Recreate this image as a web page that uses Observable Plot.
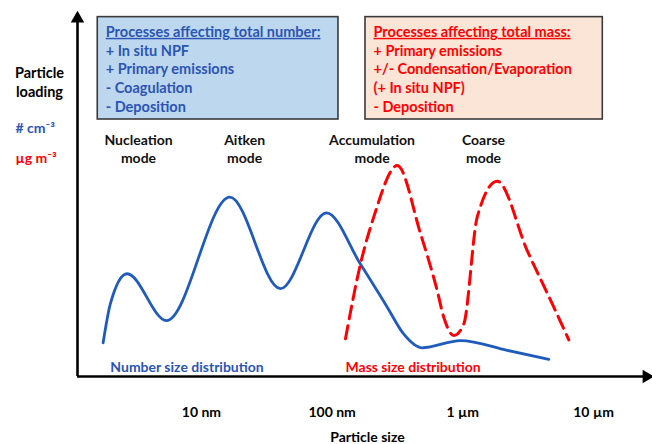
<!DOCTYPE html>
<html><head><meta charset="utf-8">
<script src="https://cdn.jsdelivr.net/npm/d3@7"></script>
<script src="https://cdn.jsdelivr.net/npm/@observablehq/plot@0.6"></script>
<style>body{margin:0;background:#fff;}</style>
</head><body><div id="chart"></div>
<script>
// ---- data ----
const sizeTicks = [10, 100, 1000, 10000];                 // nm
const sizeTickLabels = ["10 nm", "100 nm", "1 µm", "10 µm"];

const numberSize    = [1.77, 2.01, 2.70, 5.40, 16.5, 40.2, 90.5, 165, 264, 351, 489, 959, 2184, 4546];
const numberLoading = [9.3, 20.0, 28.3, 15.4, 49.4, 24.2, 45.1, 30.9, 19.1, 11.8, 7.9, 9.9, 7.2, 4.7];

const massSize    = [126.5, 165, 208, 315, 474, 636, 715, 853, 1017, 1288, 1831, 3107, 4965, 6466];
const massLoading = [10.4, 31.1, 43.9, 58.1, 39.4, 23.7, 16.3, 11.3, 14.5, 43.9, 53.8, 34.7, 19.1, 10.1];

const modeLabels = ["Nucleation\nmode", "Aitken\nmode", "Accumulation\nmode", "Coarse\nmode"];
const modeSizes  = [3.30, 21.4, 202, 1439];

const boxTitles = ["Processes affecting total number:", "Processes affecting total mass:"];
const numberProcesses = ["+ In situ NPF", "+ Primary emissions", "- Coagulation", "- Deposition"];
const massProcesses = ["+ Primary emissions", "+/- Condensation/Evaporation", "(+ In situ NPF)", "- Deposition"];
const boxFrom = [1.61, 180];
const boxTo   = [111.8, 11770];

const BLUE = "#1f5bbd", RED = "#ff0000", BLUE_TEXT = "#2a55b5";
const xDomain = [1.127, 27270];

const number = numberSize.map((s, i) => ({size: s, loading: numberLoading[i]}));
const mass = massSize.map((s, i) => ({size: s, loading: massLoading[i]}));
const modes = modeLabels.map((l, i) => ({label: l, size: modeSizes[i]}));
const tickLabel = new Map(sizeTicks.map((t, i) => [t, sizeTickLabels[i]]));
const boxes = boxTitles.map((t, i) => ({
  title: t, x1: boxFrom[i], x2: boxTo[i],
  fill: i === 0 ? "#bdd7ee" : "#fbe5d6", color: i === 0 ? BLUE_TEXT : RED
}));
const lines = [
  ...numberProcesses.map((t, i) => ({text: t, x: boxFrom[0], row: i, color: BLUE_TEXT})),
  ...massProcesses.map((t, i) => ({text: t, x: boxFrom[1], row: i, color: RED}))
];
const TITLE_Y = 94.85, STEP = 5.16;

const chart = Plot.plot({
  width: 652, height: 444,
  marginLeft: 77, marginRight: 2, marginTop: 13, marginBottom: 68,
  style: {fontFamily: "Lato, Carlito, sans-serif", fontWeight: "bold", background: "#fff"},
  x: {type: "log", domain: xDomain},
  y: {domain: [0, 100], axis: null},
  marks: [
    Plot.rect(boxes, {x1: "x1", x2: "x2", y1: 70.8, y2: 99.0, fill: "fill", stroke: "#3a3a3a", strokeWidth: 1.6}),
    Plot.text(boxes, {x: "x1", y: TITLE_Y, text: "title", dx: 8, textAnchor: "start", fill: "color", fontSize: 14.5, fontWeight: "bold"}),
    Plot.text(lines, {x: "x", y: d => TITLE_Y - (d.row + 1) * STEP, text: "text", dx: 8, textAnchor: "start", fill: "color", fontSize: 14.5, fontWeight: "bold"}),
    Plot.text(modes, {x: "size", y: 62.8, text: "label", fontSize: 14, fontWeight: "bold", fill: "#111", lineHeight: 1.3}),
    Plot.line(number, {x: "size", y: "loading", stroke: BLUE, strokeWidth: 2.8, curve: "monotone-x"}),
    Plot.line(mass, {x: "size", y: "loading", stroke: RED, strokeWidth: 3, strokeDasharray: "13,7", curve: "monotone-x"}),
    Plot.text(["Number size distribution"], {x: 2.01, y: 2.56, textAnchor: "start", fill: BLUE_TEXT, fontSize: 14, fontWeight: "bold"}),
    Plot.text(["Mass size distribution"], {x: 126.5, y: 2.56, textAnchor: "start", fill: RED, fontSize: 14, fontWeight: "bold"}),
    Plot.ruleY([0], {strokeWidth: 2.6, stroke: "#000"}),
    Plot.ruleX([xDomain[0]], {strokeWidth: 2.6, stroke: "#000"}),
    Plot.dot([xDomain[1]], {x: d => d, y: 0, symbol: "triangle", rotate: 90, r: 5, fill: "#000", dx: -4}),
    Plot.dot([xDomain[0]], {x: d => d, y: 100, symbol: "triangle", r: 5, fill: "#000", dy: 5}),
    Plot.axisX({ticks: sizeTicks, tickSize: 0, tickPadding: 31, tickFormat: d => tickLabel.get(d), fontSize: 14, fontWeight: "bold", fill: "#000", label: null}),
    Plot.text(["Particle size"], {frameAnchor: "bottom", textAnchor: "middle", lineAnchor: "middle", dx: 3.5, dy: 61, fontSize: 14, fontWeight: "bold", fill: "#000"}),
    Plot.text(["Particle\nloading"], {frameAnchor: "top-left", textAnchor: "middle", lineAnchor: "middle", dx: -38, dy: 68, fontSize: 14.5, fontWeight: "bold", fill: "#000", lineHeight: 1.3}),
    Plot.text(["# cm⁻³"], {frameAnchor: "top-left", lineAnchor: "middle", dx: -62, dy: 114.7, textAnchor: "start", fontSize: 14, fontWeight: "bold", fill: BLUE_TEXT}),
    Plot.text(["µg m⁻³"], {frameAnchor: "top-left", lineAnchor: "middle", dx: -62, dy: 145, textAnchor: "start", fontSize: 14, fontWeight: "bold", fill: RED})
  ]
});
d3.select(chart).selectAll("text")
  .filter(function() { return boxTitles.includes(this.textContent); })
  .style("text-decoration", "underline");
document.getElementById("chart").appendChild(chart);
</script></body></html>
